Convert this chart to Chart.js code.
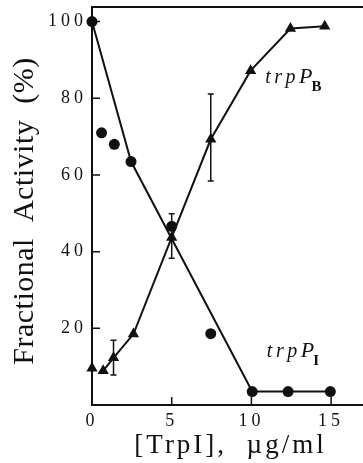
<!DOCTYPE html>
<html>
<head>
<meta charset="utf-8">
<script src="https://cdn.jsdelivr.net/npm/chart.js@4.4.0/dist/chart.umd.min.js"></script>
<style>
  html, body { margin: 0; padding: 0; background: #fff; }
  #wrap { width: 363px; height: 463px; }
</style>
</head>
<body>
<div id="wrap"><canvas id="activityChart" width="363" height="463"></canvas></div>
<script>
// values
const circleConc = [0, 0.6, 1.4, 2.45, 5, 7.45, 10.05, 12.3, 14.95];
const trpPIActivity = [100, 71, 68, 63.5, 46.6, 18.6, 3.5, 3.5, 3.5];
// straight segments drawn through the trpP_I points
const trpPIFitConc = [0, 2.45, 10.05, 14.95];
const trpPIFitActivity = [100, 63.5, 3.5, 3.5];

const triangleConc = [0, 0.7, 1.35, 2.6, 5, 7.45, 9.95, 12.45, 14.6];
const trpPBActivity = [9.6, 8.9, 12.3, 18.5, 43.7, 69.3, 87.2, 98.2, 98.8];
// error bars on trpP_B
const errConc = [1.35, 5, 7.45];
const errLow = [7.8, 38.3, 58.4];
const errHigh = [16.9, 49.9, 81.1];

const xTicks = [0, 5, 10, 15];
const yTicks = [20, 40, 60, 80, 100];

const serif = "'Liberation Serif', 'DejaVu Serif', serif";
const ink = '#111';

function toPoints(xs, ys) {
    return xs.map((x, i) => ({ x: x, y: ys[i] }));
}

function drawCurveLabel(ctx, sub, px, py) {
    ctx.save();
    ctx.fillStyle = ink;
    ctx.textBaseline = 'alphabetic';
    ctx.textAlign = 'left';
    ctx.font = 'italic 20px ' + serif;
    ctx.letterSpacing = '3.5px';
    ctx.fillText('trp', px, py);
    var w = ctx.measureText('trp').width;
    ctx.font = 'italic 22px ' + serif;
    ctx.letterSpacing = '0px';
    ctx.fillText('P', px + w, py);
    var w2 = ctx.measureText('P').width;
    ctx.font = 'bold 15px ' + serif;
    ctx.fillText(sub, px + w + w2 - 1, py + 8);
    ctx.restore();
}

const figurePlugin = {
    id: 'figure',
    beforeDraw(chart) {
        chart.ctx.letterSpacing = '4px';
    },
    afterDatasetsDraw(chart) {
        const ctx = chart.ctx;
        const xs = chart.scales.x, ys = chart.scales.y;
        ctx.save();
        ctx.strokeStyle = ink;
        ctx.lineWidth = 1.5;
        errConc.forEach(function(c, i) {
            var px = xs.getPixelForValue(c);
            var lo = ys.getPixelForValue(errLow[i]);
            var hi = ys.getPixelForValue(errHigh[i]);
            ctx.beginPath();
            ctx.moveTo(px, lo); ctx.lineTo(px, hi);
            ctx.moveTo(px - 3, lo); ctx.lineTo(px + 3, lo);
            ctx.moveTo(px - 3, hi); ctx.lineTo(px + 3, hi);
            ctx.stroke();
        });
        ctx.restore();
    },
    afterDraw(chart) {
        const ctx = chart.ctx;
        const area = chart.chartArea;
        const xs = chart.scales.x, ys = chart.scales.y;
        ctx.save();
        ctx.strokeStyle = ink;
        // top frame line
        ctx.lineWidth = 2;
        ctx.beginPath();
        ctx.moveTo(area.left, area.top);
        ctx.lineTo(area.right, area.top);
        ctx.stroke();
        // inward tick marks
        ctx.lineWidth = 1.5;
        ctx.beginPath();
        xTicks.forEach(function(v) {
            var px = xs.getPixelForValue(v);
            ctx.moveTo(px, area.bottom);
            ctx.lineTo(px, area.bottom - 8);
        });
        yTicks.forEach(function(v) {
            var py = ys.getPixelForValue(v);
            ctx.moveTo(area.left, py);
            ctx.lineTo(area.left + 8, py);
        });
        ctx.stroke();

        // axis titles
        ctx.fillStyle = ink;
        ctx.textAlign = 'center';
        ctx.textBaseline = 'alphabetic';
        ctx.font = '27px ' + serif;
        ctx.letterSpacing = '3px';
        ctx.fillText('[TrpI],  \u00b5g/ml', (area.left + area.right) / 2 + 3, 453);
        ctx.font = '30px ' + serif;
        ctx.letterSpacing = '0.5px';
        ctx.translate(33, (area.top + area.bottom) / 2 + 5);
        ctx.rotate(-Math.PI / 2);
        ctx.fillText('Fractional  Activity  (%)', 0, 0);
        ctx.restore();

        drawCurveLabel(ctx, 'B', xs.getPixelForValue(10.87), ys.getPixelForValue(84));
        drawCurveLabel(ctx, 'I', xs.getPixelForValue(10.97), ys.getPixelForValue(12.5));
    }
};

const ctx = document.getElementById('activityChart').getContext('2d');
const activityChart = new Chart(ctx, {
    type: 'scatter',
    data: {
        datasets: [{
            label: 'trpP_I fit',
            data: toPoints(trpPIFitConc, trpPIFitActivity),
            showLine: true,
            borderColor: ink,
            borderWidth: 2,
            pointRadius: 0,
            tension: 0,
            clip: false
        }, {
            label: 'trpP_B fit',
            data: toPoints(triangleConc.slice(1), trpPBActivity.slice(1)),
            showLine: true,
            borderColor: ink,
            borderWidth: 2,
            pointRadius: 0,
            tension: 0,
            clip: false
        }, {
            label: 'trpP_I',
            data: toPoints(circleConc, trpPIActivity),
            showLine: false,
            pointStyle: 'circle',
            pointRadius: 5.5,
            backgroundColor: ink,
            borderColor: ink,
            borderWidth: 0,
            clip: false
        }, {
            label: 'trpP_B',
            data: toPoints(triangleConc, trpPBActivity),
            showLine: false,
            pointStyle: 'triangle',
            pointRadius: 6.5,
            backgroundColor: ink,
            borderColor: ink,
            borderWidth: 0,
            clip: false
        }]
    },
    options: {
        responsive: false,
        animation: false,
        devicePixelRatio: 1,
        layout: { autoPadding: false, padding: { top: 7, right: 0, left: 0, bottom: 0 } },
        plugins: {
            legend: { display: false },
            tooltip: { enabled: false }
        },
        scales: {
            x: {
                type: 'linear',
                min: 0,
                max: 17,
                afterFit: function(s) {
                    s.height = 58;
                    s.paddingLeft = 0;
                    s.paddingRight = 0;
                },
                afterBuildTicks: function(s) { s.ticks = xTicks.map(v => ({ value: v })); },
                grid: { display: false, drawTicks: false },
                border: { display: true, width: 2, color: ink },
                ticks: {
                    color: ink,
                    padding: 5,
                    maxRotation: 0,
                    font: { family: serif, size: 18 }
                }
            },
            y: {
                type: 'linear',
                min: 0,
                max: 103.8,
                afterFit: function(s) {
                    s.width = 92;
                    s.paddingTop = 0;
                    s.paddingBottom = 0;
                },
                afterBuildTicks: function(s) { s.ticks = yTicks.map(v => ({ value: v })); },
                grid: { display: false, drawTicks: false },
                border: { display: true, width: 2, color: ink },
                ticks: {
                    color: ink,
                    padding: 5,
                    font: { family: serif, size: 18 }
                }
            }
        }
    },
    plugins: [figurePlugin]
});
</script>
</body>
</html>
